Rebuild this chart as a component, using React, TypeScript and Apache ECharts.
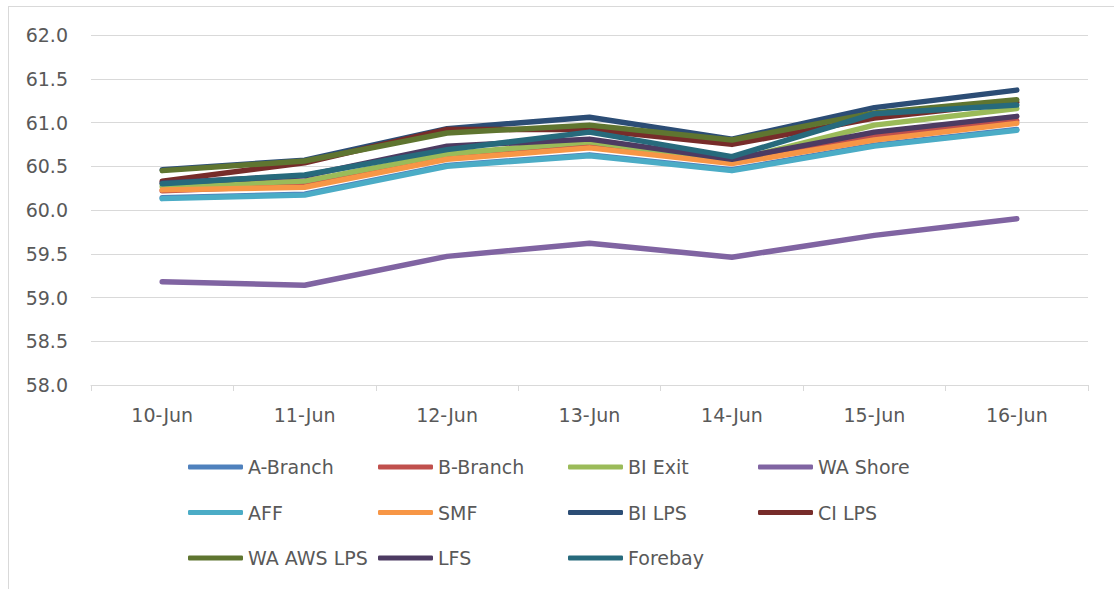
import React, { useEffect, useRef } from "react";
import * as echarts from "echarts";

const dates = ["10-Jun", "11-Jun", "12-Jun", "13-Jun", "14-Jun", "15-Jun", "16-Jun"];
const yTicks = [58.0, 58.5, 59.0, 59.5, 60.0, 60.5, 61.0, 61.5, 62.0];

const aBranch = [60.14, 60.18, 60.51, 60.63, 60.46, 60.74, 60.92];
const bBranch = [60.22, 60.28, 60.61, 60.75, 60.55, 60.84, 61.02];
const biExit = [60.27, 60.33, 60.64, 60.78, 60.56, 60.97, 61.16];
const waShore = [59.18, 59.14, 59.47, 59.62, 59.46, 59.71, 59.9];
const aff = [60.13, 60.17, 60.5, 60.62, 60.45, 60.73, 60.91];
const smf = [60.23, 60.26, 60.58, 60.71, 60.53, 60.8, 60.99];
const biLps = [60.46, 60.57, 60.93, 61.06, 60.81, 61.17, 61.37];
const ciLps = [60.33, 60.54, 60.92, 60.92, 60.75, 61.05, 61.23];
const waAwsLps = [60.45, 60.56, 60.88, 60.97, 60.8, 61.11, 61.26];
const lfs = [60.31, 60.39, 60.73, 60.81, 60.58, 60.89, 61.07];
const forebay = [60.3, 60.4, 60.69, 60.89, 60.61, 61.1, 61.2];

const seriesNames = [
  "A-Branch", "B-Branch", "BI Exit", "WA Shore", "AFF", "SMF",
  "BI LPS", "CI LPS", "WA AWS LPS", "LFS", "Forebay",
];
const seriesData = [aBranch, bBranch, biExit, waShore, aff, smf, biLps, ciLps, waAwsLps, lfs, forebay];
const colors = [
  "#4F81BD", "#C0504D", "#9BBB59", "#8064A2", "#4BACC6", "#F79646",
  "#2C4D75", "#772C2A", "#5F7530", "#4D3B62", "#276A7C",
];

const FONT = "DejaVu Sans";
const TEXT = "#595959";
const GRID = "#d9d9d9";

export default function App() {
  const ref = useRef<HTMLDivElement>(null);
  useEffect(() => {
    if (!ref.current) return;
    const chart = echarts.init(ref.current, null, { renderer: "svg" });
    const legends = seriesNames.map((name, i) => ({
      data: [name],
      left: 188 + (i % 4) * 190,
      top: 455 + Math.floor(i / 4) * 45.5,
      padding: 0,
      icon: "roundRect",
      itemWidth: 55,
      itemHeight: 5,
      itemGap: 5,
      selectedMode: false,
      textStyle: { fontFamily: FONT, fontSize: 19, color: TEXT, lineHeight: 24 },
    }));
    chart.setOption({
      animation: false,
      color: colors,
      grid: { left: 91, right: 26, top: 35, bottom: 204, containLabel: false },
      legend: legends,
      xAxis: {
        type: "category",
        data: dates,
        boundaryGap: true,
        axisLine: { show: true, lineStyle: { color: GRID, width: 1 } },
        axisTick: { show: true, length: 6, lineStyle: { color: GRID } },
        axisLabel: { fontFamily: FONT, fontSize: 19, color: TEXT, margin: 20 },
      },
      yAxis: {
        type: "value",
        min: 58,
        max: 62,
        interval: 0.5,
        axisLine: { show: false },
        axisTick: { show: false },
        splitLine: { show: true, lineStyle: { color: GRID, width: 1 } },
        axisLabel: {
          fontFamily: FONT,
          fontSize: 19,
          color: TEXT,
          margin: 23,
          formatter: (v: number) => (yTicks.includes(v) ? v.toFixed(1) : ""),
        },
      },
      series: seriesNames.map((name, i) => ({
        name,
        type: "line",
        data: seriesData[i],
        symbol: "none",
        lineStyle: { width: 5.5, cap: "round", join: "round", color: colors[i] },
        itemStyle: { color: colors[i] },
      })),
      graphic: [
        { type: "line", shape: { x1: 8.5, y1: 6, x2: 8.5, y2: 589 }, style: { stroke: GRID, lineWidth: 1 } },
        { type: "line", shape: { x1: 8, y1: 6.5, x2: 1114, y2: 6.5 }, style: { stroke: GRID, lineWidth: 1 } },
      ],
    });
    return () => chart.dispose();
  }, []);
  return (
    <div
      ref={ref}
      style={{ position: "absolute", left: 0, top: 0, width: 1114, height: 589, background: "#fff" }}
    />
  );
}
